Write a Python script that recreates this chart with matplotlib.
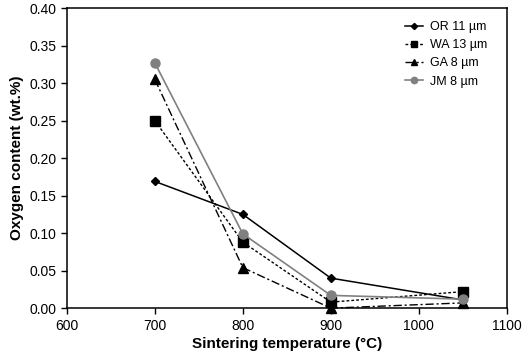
import matplotlib
matplotlib.use("Agg")
import matplotlib.pyplot as plt

plt.rcParams['font.family'] = ['Liberation Sans', 'DejaVu Sans']

temps = [700, 800, 900, 1050]
or_11 = [0.169, 0.125, 0.040, 0.011]
wa_13 = [0.250, 0.088, 0.008, 0.022]
ga_8 = [0.305, 0.054, 0.000, 0.007]
jm_8 = [0.327, 0.099, 0.017, 0.012]

fig = plt.figure(figsize=(5.22, 3.55), dpi=100)
ax = fig.add_axes([0.128, 0.132, 0.843, 0.845])

ax.plot(temps, or_11, color="black", lw=1.1, ls="-", marker="D", ms=4.5,
        label="OR 11 \u00b5m", clip_on=False, zorder=3)
ax.plot(temps, wa_13, color="black", lw=1.0, ls=(0, (2, 1.5)), marker="s", ms=6.5,
        label="WA 13 \u00b5m", clip_on=False, zorder=3)
ax.plot(temps, ga_8, color="black", lw=1.0, ls=(0, (6, 2, 1.5, 2)), marker="^", ms=6.5,
        label="GA 8 \u00b5m", clip_on=False, zorder=3)
ax.plot(temps, jm_8, color="#808080", lw=1.2, ls="-", marker="o", ms=6.5,
        label="JM 8 \u00b5m", clip_on=False, zorder=3)

ax.set_xlim(600, 1100)
ax.set_ylim(0, 0.40)
ax.set_xticks([600, 700, 800, 900, 1000, 1100])
ax.set_yticks([0.0, 0.05, 0.10, 0.15, 0.20, 0.25, 0.30, 0.35, 0.40])
ax.yaxis.set_major_formatter(matplotlib.ticker.FormatStrFormatter("%.2f"))
ax.tick_params(direction="out", length=4, width=1, labelsize=10, colors="black")
for s in ax.spines.values():
    s.set_linewidth(1.1)

ax.set_xlabel("Sintering temperature (\u00b0C)", fontsize=11, fontweight="bold", labelpad=3)
ax.set_ylabel("Oxygen content (wt.%)", fontsize=11, fontweight="bold", labelpad=4)

ax.legend(loc="upper right", bbox_to_anchor=(0.98, 0.995), fontsize=9, frameon=False,
          handlelength=1.5, markerscale=0.7, labelspacing=0.5, handletextpad=0.5)

fig.savefig("out.png", dpi=100)
